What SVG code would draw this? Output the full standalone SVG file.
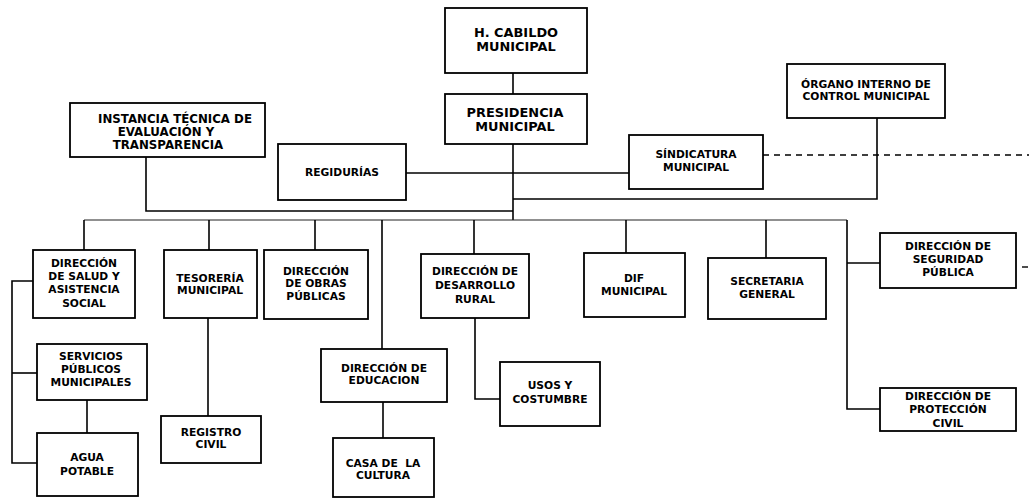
<svg xmlns="http://www.w3.org/2000/svg" width="1029" height="498" viewBox="0 0 1029 498">
<style>
.box{fill:#fff;stroke:#000;stroke-width:1.8}
.t{font-family:"DejaVu Sans","Liberation Sans",sans-serif;font-weight:bold;font-size:10.7px;fill:#000;text-anchor:middle;white-space:pre}
.big{font-size:12.9px}
.mid{font-size:11.8px}
.c{fill:none;stroke:#000;stroke-width:1.6}
.thin{fill:none;stroke:#222;stroke-width:1.1}
.dash{fill:none;stroke:#000;stroke-width:1.4;stroke-dasharray:6 5}
</style>
<rect width="1029" height="498" fill="#fff"/>
<g id="connectors">
<path class="c" d="M513 73V94"/>
<path class="c" d="M513 144V220"/>
<path class="c" d="M406 173H629"/>
<path class="c" d="M146 157V211H513"/>
<path class="c" d="M877 118V199H513"/>
<path class="dash" d="M763 155H1029"/>
<path class="thin" d="M84 220H847"/>
<path class="c" d="M84 220V250"/>
<path class="c" d="M209 220V250"/>
<path class="c" d="M315 220V250"/>
<path class="c" d="M382 220V349"/>
<path class="c" d="M474 220V254"/>
<path class="c" d="M626 220V253"/>
<path class="c" d="M766 220V258"/>
<path class="c" d="M847 220V409H880"/>
<path class="c" d="M847 263H880"/>
<path class="c" d="M33 281H12V463H37"/>
<path class="c" d="M12 373H37"/>
<path class="c" d="M87 400V433"/>
<path class="c" d="M208 318V416"/>
<path class="c" d="M383 402V438"/>
<path class="c" d="M475 318V399H500"/>
<path class="dash" d="M1022 267H1029"/>
</g>
<g id="cabildo"><rect class="box" x="445" y="8" width="142" height="65"/><text class="t big" x="516" y="37">H. CABILDO</text><text class="t big" x="516" y="51">MUNICIPAL</text></g>
<g id="presidencia"><rect class="box" x="445" y="94" width="142" height="50"/><text class="t big" x="515" y="117">PRESIDENCIA</text><text class="t big" x="515" y="131">MUNICIPAL</text></g>
<g id="instancia"><rect class="box" x="70" y="103" width="195" height="54"/><text class="t mid" x="175" y="123">INSTANCIA TÉCNICA DE</text><text class="t mid" x="166" y="136">EVALUACIÓN Y</text><text class="t mid" x="168" y="149">TRANSPARENCIA</text></g>
<g id="regidurias"><rect class="box" x="278" y="144" width="128" height="56"/><text class="t" x="342" y="176">REGIDURÍAS</text></g>
<g id="organo"><rect class="box" x="787" y="64" width="158" height="54"/><text class="t" x="866" y="88">ÓRGANO INTERNO DE</text><text class="t" x="866" y="100">CONTROL MUNICIPAL</text></g>
<g id="sindicatura"><rect class="box" x="629" y="135" width="134" height="54"/><text class="t" x="696" y="158">SÍNDICATURA</text><text class="t" x="696" y="171">MUNICIPAL</text></g>
<g id="salud"><rect class="box" x="33" y="250" width="102" height="68"/><text class="t" x="84" y="267">DIRECCIÓN</text><text class="t" x="84" y="280">DE SALUD Y</text><text class="t" x="84" y="293">ASISTENCIA</text><text class="t" x="84" y="307">SOCIAL</text></g>
<g id="tesoreria"><rect class="box" x="164" y="250" width="93" height="68"/><text class="t" x="210" y="282">TESORERÍA</text><text class="t" x="210" y="294">MUNICIPAL</text></g>
<g id="obras"><rect class="box" x="264" y="250" width="104" height="69"/><text class="t" x="316" y="275">DIRECCIÓN</text><text class="t" x="316" y="287">DE OBRAS</text><text class="t" x="316" y="300">PÚBLICAS</text></g>
<g id="servicios"><rect class="box" x="37" y="344" width="110" height="56"/><text class="t" x="91" y="360">SERVICIOS</text><text class="t" x="91" y="373">PÚBLICOS</text><text class="t" x="91" y="386">MUNICIPALES</text></g>
<g id="agua"><rect class="box" x="37" y="433" width="101" height="63"/><text class="t" x="87" y="461">AGUA</text><text class="t" x="87" y="475">POTABLE</text></g>
<g id="registro"><rect class="box" x="161" y="416" width="100" height="47"/><text class="t" x="211" y="436">REGISTRO</text><text class="t" x="211" y="448">CIVIL</text></g>
<g id="educacion"><rect class="box" x="321" y="349" width="126" height="53"/><text class="t" x="384" y="372">DIRECCIÓN DE</text><text class="t" x="384" y="384">EDUCACION</text></g>
<g id="casa"><rect class="box" x="333" y="438" width="101" height="59"/><text class="t" x="383" y="467">CASA DE  LA</text><text class="t" x="383" y="479">CULTURA</text></g>
<g id="desarrollo"><rect class="box" x="421" y="254" width="108" height="64"/><text class="t" x="475" y="275">DIRECCIÓN DE</text><text class="t" x="475" y="289">DESARROLLO</text><text class="t" x="475" y="303">RURAL</text></g>
<g id="usos"><rect class="box" x="500" y="362" width="100" height="64"/><text class="t" x="550" y="389">USOS Y</text><text class="t" x="550" y="403">COSTUMBRE</text></g>
<g id="dif"><rect class="box" x="584" y="253" width="101" height="64"/><text class="t" x="634" y="282">DIF</text><text class="t" x="634" y="295">MUNICIPAL</text></g>
<g id="secretaria"><rect class="box" x="708" y="258" width="118" height="61"/><text class="t" x="767" y="285">SECRETARIA</text><text class="t" x="767" y="298">GENERAL</text></g>
<g id="seguridad"><rect class="box" x="880" y="233" width="136" height="55"/><text class="t" x="948" y="250">DIRECCIÓN DE</text><text class="t" x="948" y="263">SEGURIDAD</text><text class="t" x="948" y="276">PÚBLICA</text></g>
<g id="proteccion"><rect class="box" x="880" y="388" width="136" height="43"/><text class="t" x="948" y="400">DIRECCIÓN DE</text><text class="t" x="948" y="413">PROTECCIÓN</text><text class="t" x="948" y="427">CIVIL</text></g>
</svg>
